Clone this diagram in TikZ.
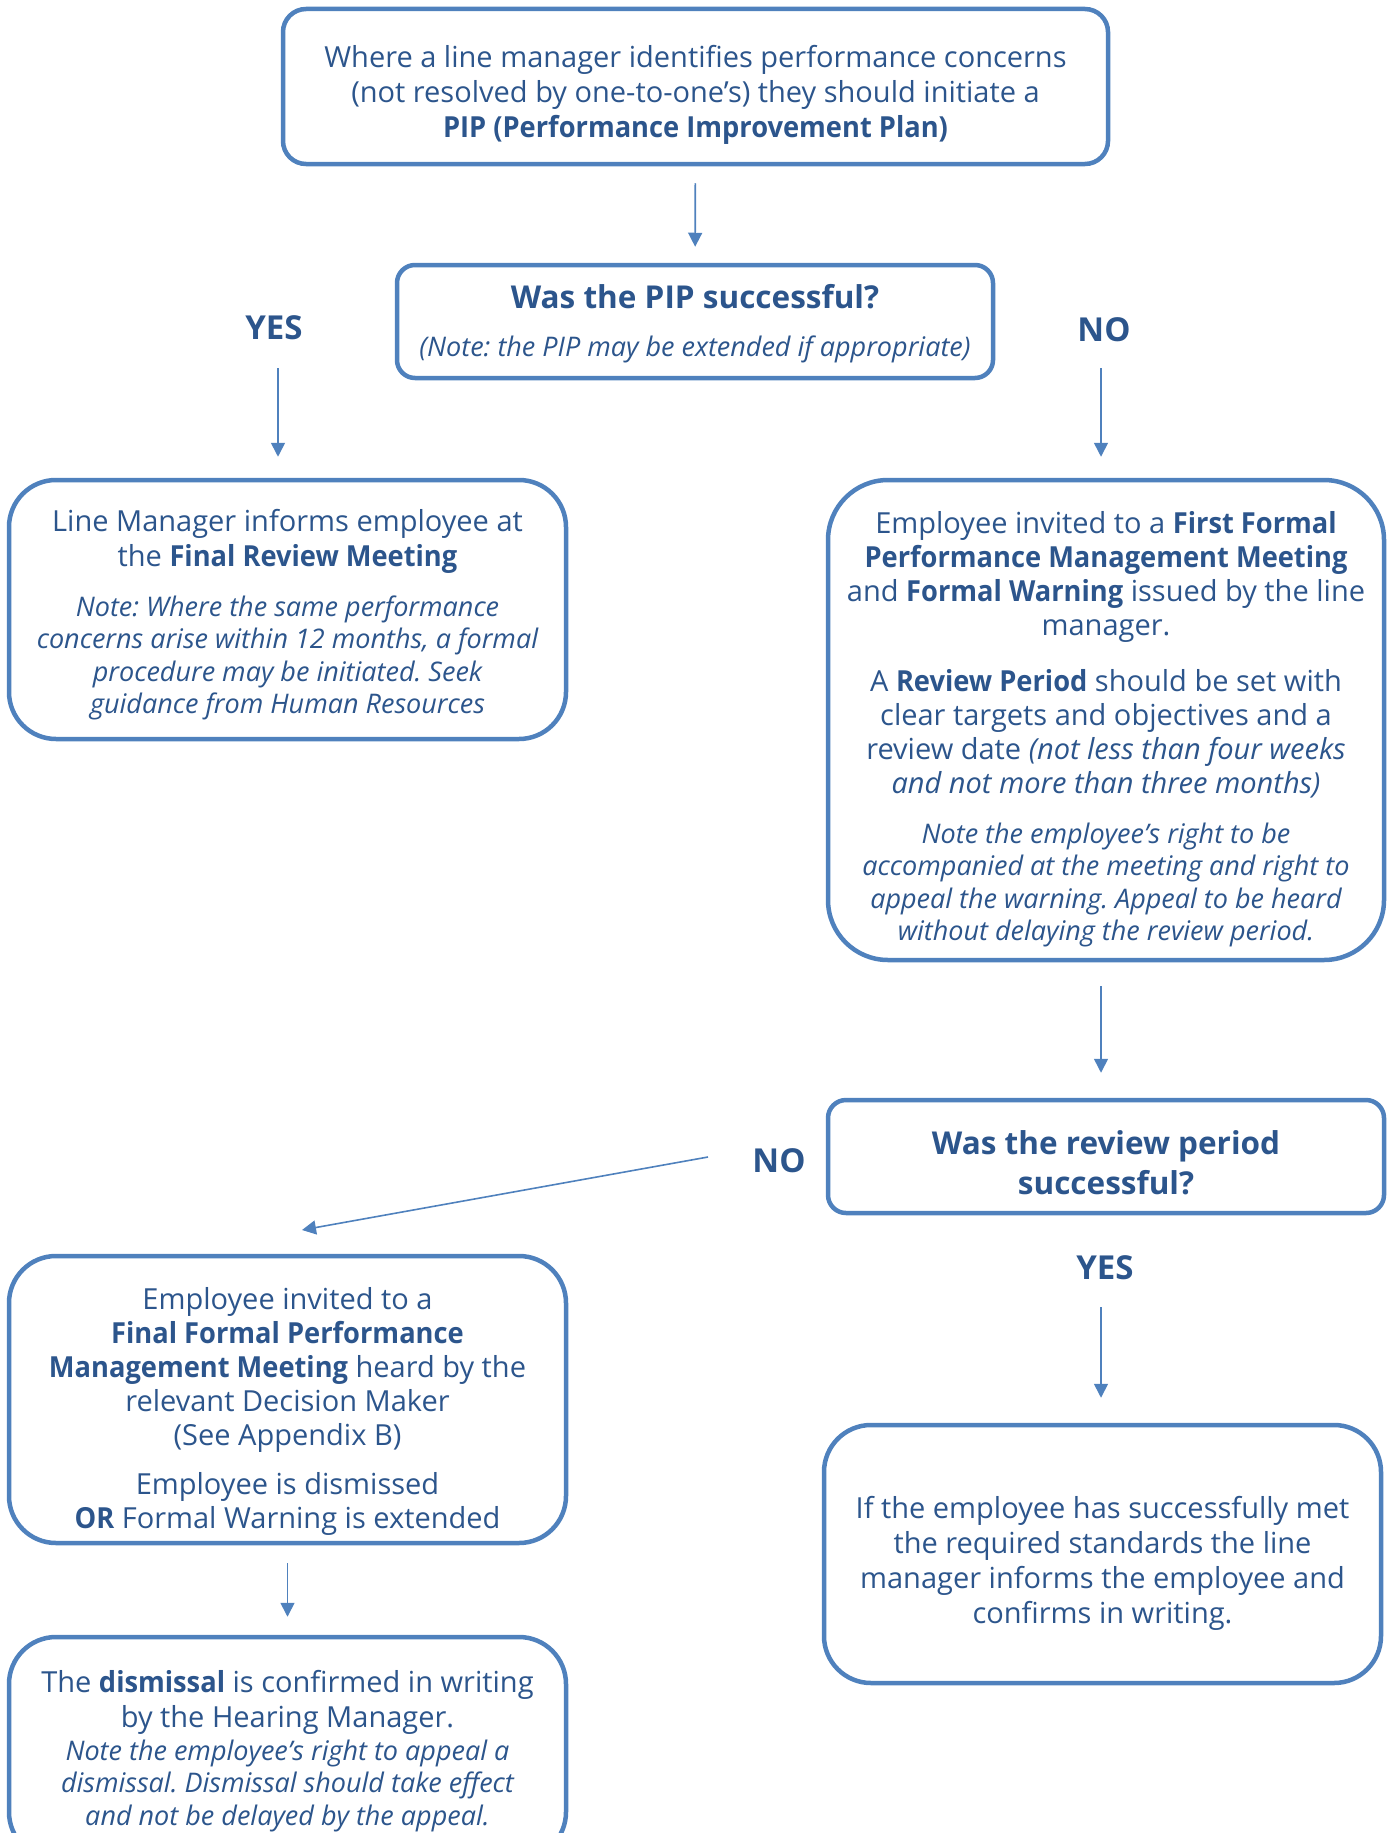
\documentclass[tikz,border=0pt]{standalone}
\usepackage{fontspec}
\setmainfont{Open Sans}[BoldFeatures={FakeStretch=0.94}]
\newfontfamily\titfam{Open Sans}
\usetikzlibrary{arrows.meta}
\definecolor{bord}{HTML}{4F81BD}
\definecolor{txt}{HTML}{2C558C}
\newcommand{\regf}{\fontsize{29}{35}\selectfont}
\newcommand{\regg}{\fontsize{29}{34}\selectfont}
\newcommand{\notef}{\fontsize{27}{32.5}\selectfont\itshape}
\newcommand{\titf}{\titfam\fontsize{31.5}{40}\selectfont\bfseries}
\newcommand{\lblf}{\titfam\fontsize{33}{40}\selectfont\bfseries}
\begin{document}
\begin{tikzpicture}[x=1pt,y=-1pt,
  box/.style={draw=bord, line width=4.5pt, inner sep=0pt, fill=white},
  btext/.style={text=txt, align=flush center, inner sep=0pt, text width=550pt, execute at begin node={\parindent=0pt\spaceskip=0pt\xspaceskip=0pt\frenchspacing}},
  lbl/.style={text=txt, font=\lblf, inner sep=0pt},
  arr/.style={draw=bord, line width=1.6pt, -{Triangle[width=14pt,length=14pt]}}]
\useasboundingbox (0,0) rectangle (1390,1833);
\clip (0,0) rectangle (1390,1833);

% boxes
\node[box, rounded corners=23pt, minimum width=825pt, minimum height=155pt] (top) at (695.5,86.5) {};
\node[box, rounded corners=18pt, minimum width=596pt, minimum height=113pt] (pip) at (695,321.5) {};
\node[box, rounded corners=47pt, minimum width=557pt, minimum height=259pt] (lb1) at (287.5,609.5) {};
\node[box, rounded corners=60pt, minimum width=556pt, minimum height=480pt] (rb1) at (1106,720) {};
\node[box, rounded corners=18pt, minimum width=556pt, minimum height=113pt] (rev) at (1106,1156.5) {};
\node[box, rounded corners=47pt, minimum width=557pt, minimum height=287pt] (lb2) at (287.5,1399.5) {};
\node[box, rounded corners=47pt, minimum width=557pt, minimum height=222pt] (lb3) at (287.5,1748) {};
\node[box, rounded corners=47pt, minimum width=557pt, minimum height=258pt] (rb3) at (1102.5,1554) {};

% texts
\node[btext, text width=810pt] (topt) at (695.5,94.5)
 {{\regf Where a line manager identifies performance concerns\\ (not resolved by one-to-one’s) they should initiate a\\ \textbf{PIP (Performance Improvement Plan)}\par}};

\node[btext, text width=590pt] (pipt) at (695,323.5)
 {{\titf Was the PIP successful?\par}\vspace{15.5pt}{\notef (Note: the PIP may be extended if appropriate)\par}};

\node[btext] (lb1t) at (287.5,614.5)
 {{\regf Line Manager informs employee at\\ the \textbf{Final Review Meeting}\par}\vspace{17.5pt}{\notef Note: Where the same performance\\ concerns arise within 12 months, a formal\\ procedure may be initiated. Seek\\ guidance from Human Resources\par}};

\node[btext] (rb1t) at (1106,729)
 {{\regg Employee invited to a \textbf{First Formal}\\ \textbf{Performance Management Meeting}\\ and \textbf{Formal Warning} issued by the line\\ manager.\par}\vspace{22pt}{\regg A \textbf{Review Period} should be set with\\ clear targets and objectives and a\\ review date \textit{(not less than four weeks}\\ \textit{and not more than three months)}\par}\vspace{17.5pt}{\notef Note the employee’s right to be\\ accompanied at the meeting and right to\\ appeal the warning. Appeal to be heard\\ without delaying the review period.\par}};

\node[btext] (revt) at (1106,1162.5)
 {{\titf Was the review period\\ successful?\par}};

\node[btext] (lb2t) at (287.5,1411.5)
 {{\regg Employee invited to a\\ \textbf{Final Formal Performance}\\ \textbf{Management Meeting} heard by the\\ relevant Decision Maker\\ (See Appendix B)\par}\vspace{15pt}{\regg Employee is dismissed\\ \textbf{OR} Formal Warning is extended\par}};

\node[btext] (lb3t) at (287.5,1751)
 {{\regf The \textbf{dismissal} is confirmed in writing\\ by the Hearing Manager.\par}{\notef Note the employee’s right to appeal a\\ dismissal. Dismissal should take effect\\ and not be delayed by the appeal.\par}};

\node[btext] (rb3t) at (1102.5,1563)
 {{\regf If the employee has successfully met\\ the required standards the line\\ manager informs the employee and\\ confirms in writing.\par}};

% labels
\node[lbl] (yes1) at (274,328) {YES};
\node[lbl] (no1) at (1104,330) {NO};
\node[lbl] (no2) at (779,1161) {NO};
\node[lbl] (yes2) at (1105,1268) {YES};

\coordinate (ya) at (278,368);
\coordinate (na) at (1101,368);
\coordinate (ns) at (708,1157);
\coordinate (nd) at (302,1230);
\coordinate (ya2) at (1101,1307);

\draw[arr, shorten <=17pt, shorten >=16pt] (top) -- (pip);
\draw[arr, shorten >=21pt] (ya) -- (ya |- lb1.north);
\draw[arr, shorten >=21pt] (na) -- (na |- rb1.north);
\draw[arr, shorten <=24pt, shorten >=25pt] (rb1.south -| na) -- (rev.north -| na);
\draw[arr] (ns) -- (nd);
\draw[arr, shorten >=25pt] (ya2) -- (ya2 |- rb3.north);
\draw[arr, shorten <=18pt, shorten >=18pt] (lb2) -- (lb3);
\end{tikzpicture}
\end{document}
